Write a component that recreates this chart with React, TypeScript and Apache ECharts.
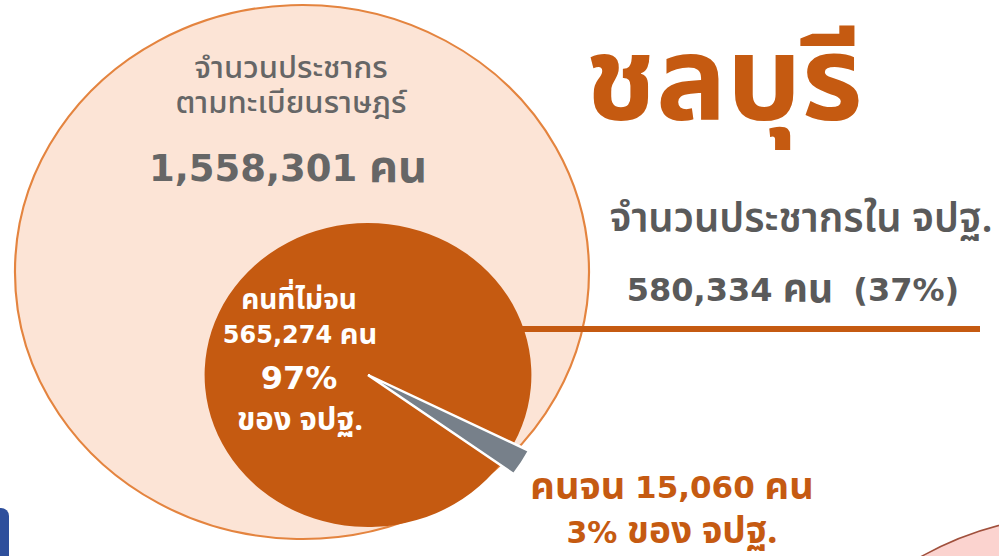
import React, { useEffect, useRef } from "react";
import * as echarts from "echarts";

const provinceName = "ชลบุรี";
const registeredLabel = ["จำนวนประชากร", "ตามทะเบียนราษฎร์"];
const registeredTotal = [1558301];
const surveyLabel = "จำนวนประชากรใน จปฐ.";
const surveyTotal = 580334;
const surveyShareOfRegistered = 37;
const groupNames = ["คนที่ไม่จน", "คนจน"];
const groupValues = [565274, 15060];
const groupShares = [97, 3];
const unitWord = "คน";
const ofSurvey = "ของ จปฐ.";

const THAI = '"Noto Sans Thai", "Noto Sans", sans-serif';
const NUM = '"DejaVu Sans", "Noto Sans Thai", sans-serif';
const SX = 1.075;
const ORANGE = "#c55a11";
const PALE = "#fce4d6";
const GRAY_TXT = "#666666";

const fmt = (n: number) => n.toLocaleString("en-US");

type Seg = [string, "t" | "n"];

export default function App() {
  const ref = useRef<HTMLDivElement>(null);
  useEffect(() => {
    if (!ref.current) return;
    const chart = echarts.init(ref.current, undefined, { renderer: "svg" });
    const total = groupValues.reduce((a, b) => a + b, 0);
    const poorSpan = (2 * Math.PI * groupValues[1]) / total;
    const poorCenter = (31.5 * Math.PI) / 180;
    const poorStart = poorCenter - poorSpan / 2;

    const txt = (
      segs: Seg[],
      x: number,
      y: number,
      tSize: number,
      nSize: number,
      color: string,
      weight: string | number = "bold",
      lh?: number
    ) => {
      const text = segs
        .map(([s, k]) => (s.trim() === "" ? s : `{${k}|${s}}`))
        .join("");
      const lineH = lh ?? Math.round(Math.max(tSize, nSize) * 1.1);
      return {
        type: "text",
        x,
        y,
        z: 10,
        silent: true,
        style: {
          text,
          fill: color,
          font: `${weight} ${tSize}px ${THAI}`,
          textAlign: "center",
          textVerticalAlign: "middle",
          lineHeight: lineH,
          rich: {
            t: { fill: color, font: `${weight} ${tSize}px ${THAI}`, lineHeight: lineH },
            n: { fill: color, font: `bold ${nSize}px ${NUM}`, lineHeight: lineH },
          },
        },
      };
    };

    chart.setOption({
      animation: false,
      backgroundColor: "#ffffff",
      series: [
        {
          type: "custom",
          coordinateSystem: "none",
          z: 0,
          silent: true,
          data: registeredTotal,
          renderItem: () => ({
            type: "group",
            x: 302,
            y: 272,
            scaleX: SX,
            children: [
              {
                type: "circle",
                shape: { cx: 0, cy: 0, r: 267 },
                style: { fill: PALE, stroke: "#e4843f", lineWidth: 2 },
              },
            ],
          }),
        },
        {
          type: "custom",
          coordinateSystem: "none",
          z: 3,
          silent: true,
          data: groupValues,
          renderItem: (params: any) => {
            const i = params.dataIndex;
            let s: number, e: number;
            if (i === 1) {
              s = poorStart;
              e = poorStart + poorSpan;
            } else {
              s = poorStart + poorSpan;
              e = poorStart + 2 * Math.PI;
            }
            return {
              type: "group",
              x: 368,
              y: 375,
              scaleX: SX,
              children: [
                {
                  type: "sector",
                  shape: {
                    cx: 0,
                    cy: 0,
                    r0: 0,
                    r: i === 1 ? 168 : 152,
                    startAngle: s,
                    endAngle: e,
                    clockwise: true,
                  },
                  style:
                    i === 1
                      ? { fill: "#77808a", stroke: "#ffffff", lineWidth: 2.5 }
                      : { fill: ORANGE },
                },
              ],
            };
          },
        },
      ],
      graphic: [
        {
          type: "line",
          z: 2,
          silent: true,
          shape: { x1: 500, y1: 329, x2: 980, y2: 329 },
          style: { stroke: ORANGE, lineWidth: 6 },
        },
        {
          type: "rect",
          z: 2,
          silent: true,
          shape: { x: -20, y: 508, width: 29, height: 70, r: 8 },
          style: { fill: "#2e4f9c" },
        },
        {
          type: "circle",
          z: 2,
          silent: true,
          shape: { cx: 1082, cy: 847, r: 332 },
          style: { fill: "#fbd3cf", stroke: "#a0503c", lineWidth: 1.5 },
        },
        txt([[registeredLabel.join("\n"), "t"]], 291, 85.5, 31, 31, GRAY_TXT, 500, 35),
        txt([[fmt(registeredTotal[0]), "n"], [" ", "t"], [unitWord, "t"]], 288, 168, 45, 37, GRAY_TXT, "bold"),
        txt([[provinceName, "t"]], 724, 83, 118, 118, ORANGE, "bold", 118),
        txt([[surveyLabel, "t"]], 801, 220, 40, 40, "#5a5a5a", 600),
        txt(
          [[fmt(surveyTotal), "n"], [" ", "t"], [unitWord, "t"], ["  ", "t"], [`(${surveyShareOfRegistered}%)`, "n"]],
          793, 290, 39, 32, "#5a5a5a", "bold"
        ),
        txt([[groupNames[0], "t"]], 299, 300, 28, 28, "#ffffff", "bold"),
        txt([[fmt(groupValues[0]), "n"], [" ", "t"], [unitWord, "t"]], 300, 335, 29, 24, "#ffffff", "bold"),
        txt([[`${groupShares[0]}%`, "n"]], 299, 378, 32, 32, "#ffffff", "bold"),
        txt([[ofSurvey, "t"]], 300, 420, 31, 31, "#ffffff", "bold"),
        txt(
          [[groupNames[1], "t"], [" ", "t"], [fmt(groupValues[1]), "n"], [" ", "t"], [unitWord, "t"]],
          672, 487, 38, 31, ORANGE, "bold"
        ),
        txt([[`${groupShares[1]}%`, "n"], [" ", "t"], [ofSurvey, "t"]], 672, 532, 37, 30, ORANGE, "bold"),
      ],
    });
    return () => chart.dispose();
  }, []);
  return (
    <div
      ref={ref}
      style={{ position: "fixed", left: 0, top: 0, width: 999, height: 556 }}
    />
  );
}
